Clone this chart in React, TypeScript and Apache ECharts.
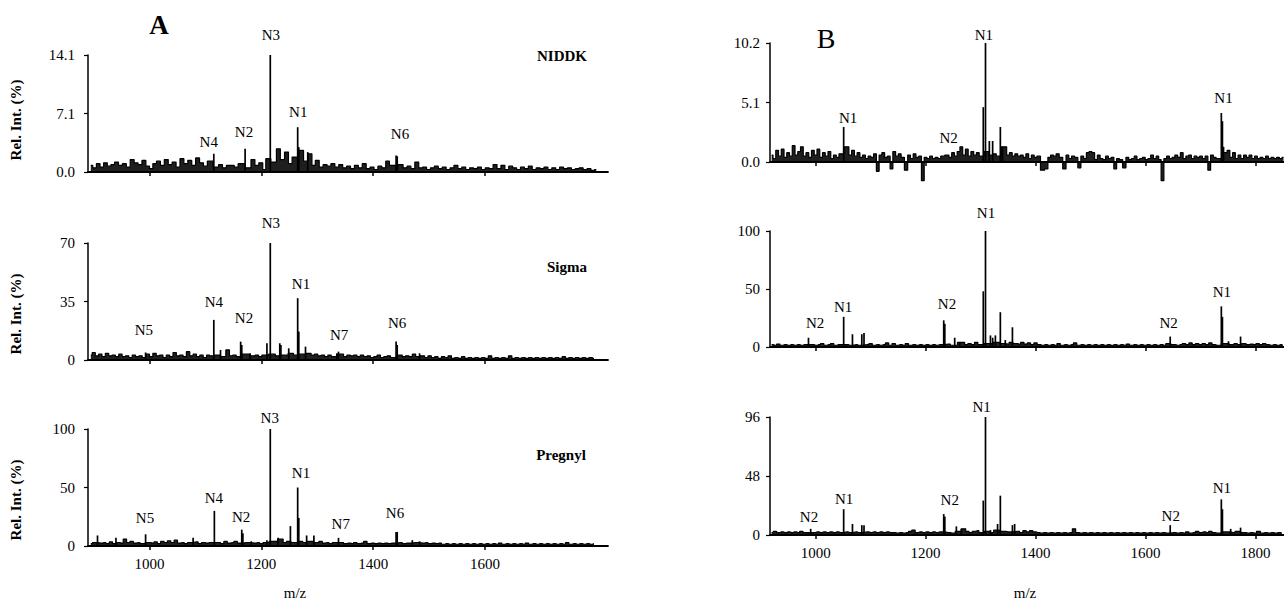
import React, { useEffect, useRef } from "react";
import * as echarts from "echarts";

// ---------- axis ticks / labels ----------
const A_X_TICKS = [1000, 1200, 1400, 1600];
const B_X_TICKS = [1000, 1200, 1400, 1600, 1800];

const A1_Y_TICKS = [0, 7.05, 14.1];
const A1_Y_LABELS = ["0.0", "7.1", "14.1"];
const A2_Y_TICKS = [0, 35, 70];
const A2_Y_LABELS = ["0", "35", "70"];
const A3_Y_TICKS = [0, 50, 100];
const A3_Y_LABELS = ["0", "50", "100"];
const B1_Y_TICKS = [0, 5.1, 10.2];
const B1_Y_LABELS = ["0.0", "5.1", "10.2"];
const B2_Y_TICKS = [0, 50, 100];
const B2_Y_LABELS = ["0", "50", "100"];
const B3_Y_TICKS = [0, 48, 96];
const B3_Y_LABELS = ["0", "48", "96"];

// ---------- A / NIDDK ----------
const A1_PEAKS = [[1115, 2.2], [1171, 2.8], [1216, 14.1], [1265, 5.4], [1267, 3.0], [1283, 2.4], [1441, 2.0], [1443, 1.9]];
const A1_NOISE = [
  [895, 0.8], [902, 0.5], [908, 1.0], [915, 0.6], [921, 1.1], [928, 0.7], [934, 0.9], [941, 1.2], [948, 0.8], [955, 1.0],
  [962, 0.6], [969, 1.5], [976, 1.1], [983, 0.9], [990, 1.4], [997, 0.7], [1003, 0.4], [1009, 1.0], [1016, 1.3], [1023, 0.8],
  [1030, 1.5], [1037, 0.9], [1044, 1.2], [1051, 0.6], [1058, 1.6], [1065, 1.0], [1072, 1.4], [1079, 0.8], [1086, 1.7], [1093, 1.1],
  [1100, 0.7], [1107, 1.3], [1120, 0.6], [1127, 0.9], [1134, 0.5], [1141, 0.8], [1148, 0.8], [1155, 0.6], [1162, 1.0], [1178, 0.5],
  [1185, 1.5], [1192, 0.8], [1199, 1.1], [1206, 0.3], [1210, 1.6], [1224, 1.2], [1230, 2.8], [1238, 1.5], [1245, 2.4], [1252, 1.0],
  [1258, 1.8], [1272, 2.6], [1279, 1.3], [1288, 2.2], [1293, 0.8], [1300, 1.4], [1307, 0.6], [1314, 0.9], [1321, 0.7], [1328, 1.0],
  [1335, 0.6], [1342, 0.9], [1349, 0.5], [1356, 0.7], [1363, 0.4], [1370, 0.8], [1377, 0.5], [1384, 1.0], [1391, 0.4], [1398, 0.6],
  [1405, 0.3], [1412, 0.7], [1419, 0.5], [1426, 1.3], [1432, 0.8], [1450, 0.9], [1457, 0.5], [1464, 0.7], [1471, 0.4], [1478, 1.2],
  [1485, 0.5], [1492, 0.6], [1499, 0.3], [1506, 0.5], [1513, 0.7], [1520, 0.4], [1527, 0.6], [1534, 0.3], [1541, 0.5], [1548, 0.8],
  [1555, 0.4], [1562, 0.6], [1569, 0.3], [1576, 0.5], [1583, 0.4], [1590, 0.6], [1597, 0.3], [1604, 0.5], [1611, 0.4], [1618, 0.9],
  [1625, 0.4], [1632, 0.8], [1639, 0.3], [1646, 0.7], [1653, 0.5], [1660, 0.3], [1667, 0.6], [1674, 0.4], [1681, 0.7], [1688, 0.3],
  [1695, 0.5], [1702, 0.4], [1709, 0.6], [1716, 0.3], [1723, 0.5], [1730, 0.3], [1737, 0.6], [1744, 0.4], [1751, 0.5], [1758, 0.3],
  [1765, 0.4], [1772, 0.5], [1779, 0.3], [1786, 0.4], [1793, 0.2], [1799, 0.3],
];
const A1_NOTES = [[1106, 3.6, "N4"], [1169, 4.8, "N2"], [1217, 16.5, "N3"], [1266, 7.2, "N1"], [1448, 4.6, "N6"]];

// ---------- A / Sigma ----------
const A2_PEAKS = [[993, 4.5], [1115, 24], [1127, 6], [1163, 11], [1165, 9], [1180, 4], [1210, 10], [1216, 70], [1233, 10], [1235, 9],
  [1249, 7], [1265, 37], [1267, 17], [1279, 8], [1335, 4], [1338, 5], [1441, 11], [1443, 9], [1483, 4]];
const A2_NOISE = [
  [895, 3], [900, 4.5], [906, 2.5], [912, 3.5], [918, 2], [924, 4], [930, 2.5], [936, 3], [942, 2], [948, 3.5],
  [954, 2], [960, 2.5], [966, 1.5], [972, 3], [978, 2], [984, 2.5], [990, 1.5], [997, 3.5], [1003, 2], [1009, 4],
  [1015, 2.5], [1021, 3], [1027, 1.5], [1033, 3], [1039, 2], [1045, 4.5], [1051, 2.5], [1057, 3], [1063, 2], [1069, 5],
  [1075, 2.5], [1081, 3.5], [1087, 2], [1093, 3], [1099, 1.5], [1105, 3], [1110, 2.5], [1121, 3], [1133, 2], [1140, 6],
  [1146, 2.5], [1152, 3], [1158, 2], [1172, 3.5], [1186, 2.5], [1192, 3], [1198, 2], [1204, 3], [1222, 3.5], [1228, 2.5],
  [1241, 3], [1255, 4], [1260, 3], [1272, 3.5], [1286, 4], [1292, 3], [1298, 3.5], [1304, 2.5], [1310, 3], [1316, 2],
  [1322, 3], [1328, 2], [1344, 3.5], [1350, 2], [1356, 3], [1362, 2.5], [1368, 3], [1374, 2], [1380, 3], [1386, 2],
  [1392, 2.5], [1398, 1.5], [1404, 2], [1410, 3], [1416, 1.5], [1422, 2], [1428, 2.5], [1434, 1.5], [1449, 3], [1455, 2],
  [1461, 2.5], [1467, 2], [1473, 3.5], [1479, 2], [1489, 2.5], [1495, 1.5], [1501, 2.5], [1507, 1.5], [1513, 2], [1519, 1],
  [1525, 2], [1531, 1.5], [1537, 2.5], [1543, 1], [1549, 1.5], [1555, 1], [1561, 2], [1567, 1], [1573, 1.5], [1579, 1],
  [1585, 1.5], [1591, 1], [1597, 1.5], [1603, 1], [1609, 2.5], [1615, 1], [1621, 1.5], [1627, 1], [1633, 1.5], [1639, 1],
  [1645, 2.5], [1651, 1], [1657, 1.5], [1663, 1], [1669, 1.5], [1675, 1], [1681, 1.5], [1687, 1], [1693, 1.5], [1699, 1],
  [1705, 1.5], [1711, 1], [1717, 1.5], [1723, 1], [1729, 1.5], [1735, 1], [1741, 2], [1747, 1], [1753, 1.5], [1759, 1],
  [1765, 1.5], [1771, 1], [1777, 1.5], [1783, 1], [1789, 1.5], [1795, 1],
];
const A2_NOTES = [[990, 18, "N5"], [1115, 34.7, "N4"], [1169, 25, "N2"], [1217, 82, "N3"], [1271, 45.5, "N1"], [1339, 15, "N7"], [1443, 22, "N6"]];

// ---------- A / Pregnyl ----------
const A3_PEAKS = [[907, 9], [940, 7], [993, 10], [1078, 7], [1116, 30], [1165, 14], [1167, 11], [1182, 4], [1210, 5], [1216, 100],
  [1230, 7], [1252, 17], [1265, 50], [1267, 24], [1281, 9], [1294, 9], [1338, 7], [1441, 12], [1443, 12], [1470, 5], [1483, 4]];
const A3_NOISE = [
  [895, 2], [901, 3], [913, 2.5], [919, 3], [925, 2], [931, 3.5], [937, 2], [944, 3], [950, 2.5], [956, 6],
  [962, 3], [968, 4], [974, 2.5], [980, 3], [986, 2], [999, 3], [1005, 2.5], [1011, 3.5], [1017, 2], [1023, 4],
  [1029, 3], [1035, 4.5], [1041, 3], [1047, 5], [1053, 2.5], [1059, 3], [1065, 2], [1071, 3], [1084, 3.5], [1090, 2],
  [1096, 3], [1102, 2.5], [1108, 3], [1124, 3], [1130, 2], [1136, 4], [1142, 2.5], [1148, 3], [1154, 4], [1160, 2.5],
  [1174, 3], [1188, 2.5], [1194, 3], [1200, 2], [1206, 3], [1222, 4], [1236, 6], [1242, 3], [1248, 4], [1258, 3],
  [1272, 4], [1276, 3], [1287, 4], [1300, 3], [1306, 4], [1312, 2.5], [1318, 3], [1324, 2], [1330, 3], [1344, 3],
  [1350, 2], [1356, 2.5], [1362, 2], [1368, 3], [1374, 2], [1380, 2.5], [1386, 4], [1392, 2], [1398, 2.5], [1404, 2],
  [1410, 2.5], [1416, 2], [1422, 2.5], [1428, 2], [1434, 2.5], [1449, 3], [1455, 2], [1461, 2.5], [1476, 3], [1489, 2.5],
  [1495, 3], [1501, 2], [1507, 2.5], [1513, 2], [1519, 2.5], [1525, 1.5], [1531, 2], [1537, 1.5], [1543, 2], [1549, 1.5],
  [1555, 2], [1561, 1.5], [1567, 2], [1573, 1.5], [1579, 2], [1585, 1.5], [1591, 2], [1597, 1.5], [1603, 2], [1609, 1.5],
  [1615, 2], [1621, 1.5], [1627, 2.5], [1633, 1.5], [1639, 2], [1645, 1.5], [1651, 2], [1657, 1.5], [1663, 2], [1669, 1.5],
  [1675, 2.5], [1681, 1.5], [1687, 2], [1693, 1.5], [1699, 2], [1705, 1.5], [1711, 2], [1717, 1.5], [1723, 2], [1729, 1.5],
  [1735, 2], [1741, 1.5], [1747, 3], [1753, 1.5], [1759, 2], [1765, 1.5], [1771, 2], [1777, 1.5], [1783, 2], [1789, 1.5], [1795, 2],
];
const A3_NOTES = [[992, 24, "N5"], [1115, 41, "N4"], [1164, 25, "N2"], [1215, 109, "N3"], [1271, 62, "N1"], [1342, 19, "N7"], [1439, 28, "N6"]];

// ---------- B / top ----------
const B1_PEAKS = [[1051, 3.0], [1305, 4.7], [1309, 10.2], [1316, 1.8], [1322, 1.8], [1336, 3.0], [1340, 1.3], [1738, 4.2], [1740, 3.5], [1742, 1.3]];
const B1_NOISE = [
  [920, 0.6], [925, 0.3], [930, 1.0], [935, 0.5], [940, 1.1], [945, 0.4], [950, 0.8], [955, 0.5], [960, 1.4], [965, 0.6],
  [970, 0.9], [975, 1.3], [980, 0.5], [985, 0.8], [990, 0.4], [995, 1.0], [1000, 0.6], [1005, 1.1], [1010, 0.4], [1015, 0.8],
  [1020, 0.5], [1025, 0.9], [1030, 0.3], [1035, 0.6], [1040, 0.4], [1045, 0.7], [1058, 1.3], [1063, 0.6], [1068, 1.0], [1073, 0.5],
  [1078, 0.8], [1083, 0.4], [1088, 0.6], [1093, 0.3], [1098, 0.5], [1103, 0.4], [1108, 0.7], [1113, -0.8], [1118, 0.6], [1123, 0.8],
  [1128, 0.4], [1133, 0.5], [1138, -0.6], [1143, 0.9], [1148, 0.5], [1153, 0.7], [1158, 0.4], [1165, -0.7], [1170, 0.6], [1175, 0.3],
  [1180, 0.7], [1185, 0.4], [1190, 0.5], [1195, -1.6], [1200, 0.4], [1205, 0.3], [1210, 0.5], [1215, 0.3], [1220, 0.4], [1225, 0.3],
  [1230, 0.5], [1240, 0.6], [1245, 0.4], [1250, 0.8], [1255, 0.5], [1260, 0.9], [1265, 1.3], [1270, 0.6], [1275, 1.1], [1280, 0.5],
  [1285, 0.9], [1290, 0.6], [1295, 0.8], [1300, 0.5], [1313, 0.9], [1318, 0.6], [1326, 0.7], [1331, 0.5], [1345, 1.3], [1350, 0.6],
  [1355, 0.8], [1360, 0.5], [1365, 0.7], [1370, 0.5], [1375, 0.6], [1380, 0.4], [1385, 0.7], [1390, 0.3], [1395, 0.6], [1400, 0.4],
  [1405, 0.5], [1413, -0.7], [1420, -0.6], [1425, 0.4], [1430, 0.6], [1435, 0.5], [1440, 0.7], [1446, 0.4], [1453, -0.6], [1458, 0.6],
  [1463, 0.3], [1468, 0.5], [1474, 0.4], [1480, -0.5], [1485, 0.5], [1490, 0.3], [1495, 0.8], [1500, 0.9], [1505, 0.8], [1510, 0.2],
  [1515, 0.6], [1520, 0.3], [1525, 0.2], [1530, 0.5], [1535, 0.3], [1540, 0.4], [1545, -0.6], [1550, 0.3], [1555, 0.2], [1562, -0.5],
  [1567, 0.4], [1572, 0.2], [1577, 0.3], [1582, 0.5], [1587, 0.2], [1592, 0.3], [1597, 0.4], [1602, 0.2], [1607, 0.3], [1612, 0.6],
  [1617, 0.3], [1622, 0.5], [1626, 0.2], [1631, -1.6], [1636, 0.3], [1641, 0.5], [1646, 0.3], [1651, 0.4], [1656, 0.6], [1661, 0.4],
  [1666, 0.8], [1671, 0.3], [1676, 0.5], [1681, 0.6], [1686, 0.3], [1691, 0.5], [1696, 0.4], [1701, 0.5], [1706, 0.3], [1711, 0.5],
  [1716, -0.7], [1721, 0.6], [1726, 0.4], [1731, 0.3], [1746, 0.8], [1751, 1.0], [1756, 0.4], [1761, 0.8], [1766, 0.3], [1771, 0.6],
  [1776, 0.3], [1781, 0.6], [1786, 0.4], [1791, 0.6], [1796, 0.3], [1801, 0.5], [1806, 0.3], [1811, 0.4], [1816, 0.3], [1821, 0.5],
  [1826, 0.3], [1831, 0.4], [1836, 0.3], [1841, 0.4], [1846, 0.3], [1851, 0.4],
];
const B1_NOTES = [[1059, 3.8, "N1"], [1242, 2.1, "N2"], [1306, 10.9, "N1"], [1742, 5.5, "N1"]];

// ---------- B / middle ----------
const B2_PEAKS = [[987, 8], [1051, 26], [1067, 11], [1084, 11], [1088, 12], [1233, 23], [1235, 20], [1253, 8], [1262, 4], [1305, 48],
  [1309, 100], [1318, 10], [1322, 8], [1327, 10], [1336, 30], [1345, 6], [1358, 17], [1645, 9], [1738, 35], [1740, 26], [1751, 5], [1773, 9]];
const B2_NOISE = [
  [920, 2], [926, 1.5], [932, 2.5], [938, 1.5], [944, 2], [950, 1.5], [956, 2], [962, 1.5], [968, 2], [974, 1.5],
  [980, 2], [994, 2], [1000, 1.5], [1006, 2], [1012, 3], [1018, 1.5], [1024, 2], [1030, 3], [1036, 1.5], [1042, 2],
  [1058, 2], [1062, 1.5], [1074, 2], [1078, 1.5], [1094, 2], [1100, 3], [1106, 1.5], [1112, 2], [1118, 1.5], [1124, 2],
  [1130, 3.5], [1136, 1.5], [1142, 3], [1148, 1.5], [1154, 2], [1160, 1.5], [1166, 3], [1172, 1.5], [1178, 2], [1184, 1.5],
  [1190, 2], [1196, 1.5], [1202, 2], [1208, 1.5], [1214, 2], [1220, 1.5], [1226, 2], [1242, 2.5], [1248, 1.5], [1268, 4],
  [1274, 2], [1280, 3], [1286, 2], [1292, 4], [1298, 2], [1314, 3], [1332, 4], [1340, 3], [1350, 2.5], [1354, 4],
  [1364, 3], [1370, 2.5], [1376, 4], [1382, 2.5], [1388, 3.5], [1394, 2], [1400, 3.5], [1406, 2], [1412, 1.5], [1418, 2],
  [1424, 1.5], [1430, 2], [1436, 1.5], [1442, 3], [1448, 1.5], [1454, 2], [1460, 1.5], [1466, 2], [1472, 3.5], [1478, 1.5],
  [1484, 2], [1490, 1.5], [1496, 2], [1502, 1.5], [1508, 2], [1514, 1.5], [1520, 2], [1526, 1.5], [1532, 2], [1538, 1.5],
  [1544, 2], [1550, 1.5], [1556, 2], [1562, 1.5], [1568, 2.5], [1574, 1.5], [1580, 2], [1586, 1.5], [1592, 2], [1598, 1.5],
  [1604, 2], [1610, 1.5], [1616, 2], [1622, 1.5], [1628, 2], [1634, 1.5], [1640, 3], [1652, 2], [1658, 1.5], [1664, 2],
  [1670, 3], [1676, 2], [1682, 3.5], [1688, 2], [1694, 3], [1700, 2], [1706, 3], [1712, 2], [1718, 3.5], [1724, 2],
  [1730, 1.5], [1746, 3], [1758, 2], [1764, 3], [1770, 2], [1780, 3], [1786, 2], [1792, 2.5], [1798, 2], [1804, 3],
  [1810, 2], [1816, 3], [1822, 2], [1828, 1.5], [1834, 2], [1840, 1.5], [1846, 2], [1850, 1.5],
];
const B2_NOTES = [[999, 20.7, "N2"], [1050, 34.5, "N1"], [1239, 37, "N2"], [1310, 115.5, "N1"], [1642, 20.7, "N2"], [1739, 47.4, "N1"]];

// ---------- B / bottom ----------
const B3_PEAKS = [[991, 5], [1051, 21], [1067, 9], [1084, 8], [1088, 8], [1233, 17], [1235, 15], [1256, 7], [1265, 5], [1305, 28],
  [1309, 96], [1318, 4], [1331, 9], [1336, 32], [1358, 8], [1362, 9], [1645, 8], [1738, 29], [1740, 21], [1755, 5], [1773, 6]];
const B3_NOISE = [
  [920, 2], [926, 3], [932, 2], [938, 2.5], [944, 2], [950, 2.5], [956, 2], [962, 2.5], [968, 2], [974, 3],
  [980, 2], [997, 2], [1003, 2.5], [1009, 2], [1015, 2.5], [1021, 2], [1027, 2.5], [1033, 2], [1039, 2.5], [1045, 2],
  [1057, 2.5], [1062, 2], [1074, 2.5], [1078, 2], [1094, 2.5], [1100, 2], [1106, 2.5], [1112, 2], [1118, 2.5], [1124, 2],
  [1130, 2.5], [1136, 2], [1142, 2], [1148, 1.5], [1154, 2], [1160, 1.5], [1166, 2], [1172, 3], [1178, 4], [1184, 2],
  [1190, 2.5], [1196, 2], [1202, 2.5], [1208, 2], [1214, 2.5], [1220, 2], [1226, 2.5], [1242, 2], [1248, 1.5], [1260, 3],
  [1270, 5], [1276, 3], [1282, 2], [1288, 3], [1294, 3.5], [1300, 2], [1314, 3], [1322, 2], [1326, 4], [1342, 3],
  [1350, 2.5], [1368, 3], [1374, 2], [1380, 3.5], [1386, 2.5], [1392, 3.5], [1398, 2.5], [1404, 2], [1410, 1.5], [1416, 2],
  [1422, 1.5], [1428, 2], [1434, 1.5], [1440, 2], [1446, 1.5], [1452, 2], [1458, 1.5], [1464, 2], [1470, 5], [1476, 2],
  [1482, 1.5], [1488, 2], [1494, 1.5], [1500, 2], [1506, 1.5], [1512, 2], [1518, 1.5], [1524, 2], [1530, 1.5], [1536, 2],
  [1542, 1.5], [1548, 2], [1554, 1.5], [1560, 2], [1566, 1.5], [1572, 2], [1578, 1.5], [1584, 2], [1590, 1.5], [1596, 2],
  [1602, 1.5], [1608, 2], [1614, 1.5], [1620, 2], [1626, 1.5], [1632, 2], [1638, 1.5], [1652, 2], [1658, 1.5], [1664, 2],
  [1670, 1.5], [1676, 2.5], [1682, 1.5], [1688, 2], [1694, 3], [1700, 2], [1706, 2.5], [1712, 2], [1718, 3], [1724, 2],
  [1730, 1.5], [1746, 2.5], [1760, 2], [1766, 3], [1780, 2], [1786, 1.5], [1792, 2], [1798, 1.5], [1806, 3], [1812, 1.5],
  [1818, 2], [1824, 1.5], [1830, 2], [1836, 1.5], [1842, 2], [1848, 1.5],
];
const B3_NOTES = [[988, 14.6, "N2"], [1052, 29.3, "N1"], [1244, 28.5, "N2"], [1302, 104, "N1"], [1646, 15.5, "N2"], [1739, 38.2, "N1"]];

// ---------- layout (positions & sizes only) ----------
const SERIF = "'Liberation Serif', 'Times New Roman', serif";
const PANELS = [
  { grid: { left: 88, top: 55, width: 520, height: 117 }, xMin: 890, xMax: 1820, xTicks: A_X_TICKS, xLabels: false, yMax: 14.1, yTicks: A1_Y_TICKS, yLabels: A1_Y_LABELS, yMargin: 13, noise: A1_NOISE, peaks: A1_PEAKS, notes: A1_NOTES },
  { grid: { left: 88, top: 243, width: 520, height: 117 }, xMin: 890, xMax: 1820, xTicks: A_X_TICKS, xLabels: false, yMax: 70, yTicks: A2_Y_TICKS, yLabels: A2_Y_LABELS, yMargin: 13, noise: A2_NOISE, peaks: A2_PEAKS, notes: A2_NOTES },
  { grid: { left: 88, top: 429, width: 520, height: 117 }, xMin: 890, xMax: 1820, xTicks: A_X_TICKS, xLabels: true, yMax: 100, yTicks: A3_Y_TICKS, yLabels: A3_Y_LABELS, yMargin: 13, noise: A3_NOISE, peaks: A3_PEAKS, notes: A3_NOTES },
  { grid: { left: 770, top: 43, width: 514, height: 119 }, xMin: 917, xMax: 1852, xTicks: B_X_TICKS, xLabels: false, yMax: 10.2, yTicks: B1_Y_TICKS, yLabels: B1_Y_LABELS, yMargin: 10, noise: B1_NOISE, peaks: B1_PEAKS, notes: B1_NOTES },
  { grid: { left: 770, top: 231, width: 514, height: 116 }, xMin: 917, xMax: 1852, xTicks: B_X_TICKS, xLabels: false, yMax: 100, yTicks: B2_Y_TICKS, yLabels: B2_Y_LABELS, yMargin: 10, noise: B2_NOISE, peaks: B2_PEAKS, notes: B2_NOTES },
  { grid: { left: 770, top: 417, width: 514, height: 118 }, xMin: 917, xMax: 1852, xTicks: B_X_TICKS, xLabels: true, yMax: 96, yTicks: B3_Y_TICKS, yLabels: B3_Y_LABELS, yMargin: 10, noise: B3_NOISE, peaks: B3_PEAKS, notes: B3_NOTES },
];

function buildOption() {
  const grid: any[] = [];
  const xAxis: any[] = [];
  const yAxis: any[] = [];
  const series: any[] = [];
  PANELS.forEach((p, i) => {
    grid.push({ ...p.grid, containLabel: false });
    xAxis.push({
      type: "value", gridIndex: i, min: p.xMin, max: p.xMax,
      axisLine: { show: true, onZero: false, lineStyle: { color: "#000", width: 1.8 } },
      axisTick: { show: true, length: 4, customValues: p.xTicks, lineStyle: { color: "#000", width: 1.5 } },
      axisLabel: {
        show: p.xLabels, customValues: p.xTicks, color: "#000", fontFamily: SERIF, fontSize: 15, margin: 10,
        formatter: (v: number) => String(Math.round(v)),
      },
      splitLine: { show: false },
    });
    yAxis.push({
      type: "value", gridIndex: i, min: 0, max: p.yMax,
      axisLine: { show: true, lineStyle: { color: "#000", width: 1.5 } },
      axisTick: { show: true, length: 4, customValues: p.yTicks, lineStyle: { color: "#000", width: 1.2 } },
      axisLabel: {
        show: true, customValues: p.yTicks, color: "#000", fontFamily: SERIF, fontSize: 15, margin: p.yMargin,
        formatter: (v: number) => {
          const k = p.yTicks.findIndex((t) => Math.abs(t - v) < 1e-6);
          return k >= 0 ? p.yLabels[k] : "";
        },
      },
      splitLine: { show: false },
    });
    const noise = [...p.noise].sort((a, b) => a[0] - b[0]);
    series.push({
      type: "line", xAxisIndex: i, yAxisIndex: i, data: noise, step: "middle", symbol: "none",
      lineStyle: { color: "#000", width: 1.2 }, areaStyle: { color: "#000", opacity: 0.88 }, clip: false, silent: true,
    });
    series.push({
      type: "bar", xAxisIndex: i, yAxisIndex: i, data: p.peaks, barWidth: 1.7,
      itemStyle: { color: "#000" }, clip: false, silent: true,
    });
    series.push({
      type: "scatter", xAxisIndex: i, yAxisIndex: i, clip: false, silent: true, symbolSize: 0,
      itemStyle: { color: "#000", opacity: 1 },
      data: p.notes.map((n) => ({ value: [n[0], n[1]], name: n[2] })),
      label: {
        show: true, position: "inside", formatter: "{b}", color: "#000", opacity: 1, fontFamily: SERIF, fontSize: 15,
        textBorderWidth: 0, textBorderColor: "transparent",
      },
    });
  });

  const txt = (x: number, y: number, text: string, font: string, rotation = 0) => ({
    type: "text", x, y, rotation, silent: true,
    style: { text, font, fill: "#000", textAlign: "center", textVerticalAlign: "middle", align: "center", verticalAlign: "middle" },
  });

  const graphic = [
    txt(159, 25, "A", `bold 27px ${SERIF}`),
    txt(826, 38, "B", `28px ${SERIF}`),
    txt(562, 56, "NIDDK", `bold 15px ${SERIF}`),
    txt(567, 267, "Sigma", `bold 15px ${SERIF}`),
    txt(561, 455, "Pregnyl", `bold 15px ${SERIF}`),
    txt(16, 120, "Rel. Int. (%)", `bold 15px ${SERIF}`, Math.PI / 2),
    txt(16, 314, "Rel. Int. (%)", `bold 15px ${SERIF}`, Math.PI / 2),
    txt(16, 500, "Rel. Int. (%)", `bold 15px ${SERIF}`, Math.PI / 2),
    txt(295, 593, "m/z", `15px ${SERIF}`),
    txt(1025, 593, "m/z", `15px ${SERIF}`),
  ];

  return { animation: false, backgroundColor: "#fff", grid, xAxis, yAxis, series, graphic };
}

export default function App() {
  const ref = useRef<HTMLDivElement>(null);
  useEffect(() => {
    if (!ref.current) return;
    const chart = echarts.init(ref.current, undefined, { renderer: "svg" });
    chart.setOption(buildOption() as any);
    return () => chart.dispose();
  }, []);
  return <div ref={ref} style={{ position: "absolute", left: 0, top: 0, width: 1284, height: 602, background: "#fff" }} />;
}
